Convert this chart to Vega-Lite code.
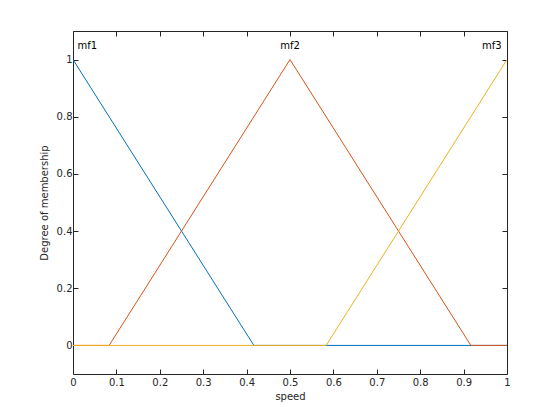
{
  "$schema": "https://vega.github.io/schema/vega-lite/v6.json",
  "autosize": {"type": "none"},
  "padding": {"left": 73, "top": 31, "right": 53, "bottom": 46},
  "width": 434,
  "height": 343,
  "background": "white",
  "config": {
    "view": {"stroke": null},
    "font": "DejaVu Sans",
    "axis": {
      "domainColor": "#262626",
      "tickColor": "#262626",
      "labelColor": "#262626",
      "titleColor": "#262626",
      "labelFont": "DejaVu Sans",
      "titleFont": "DejaVu Sans",
      "labelFontSize": 10,
      "titleFontSize": 10,
      "titleFontWeight": "normal",
      "grid": false,
      "tickSize": -5,
      "domainWidth": 1,
      "tickWidth": 1
    }
  },
  "datasets": {
    "lines": [
      {"mf": "mf1", "x": 0, "y": 1, "o": 1},
      {"mf": "mf1", "x": 0.4167, "y": 0, "o": 2},
      {"mf": "mf1", "x": 1, "y": 0, "o": 3},
      {"mf": "mf2", "x": 0, "y": 0, "o": 1},
      {"mf": "mf2", "x": 0.0833, "y": 0, "o": 2},
      {"mf": "mf2", "x": 0.5, "y": 1, "o": 3},
      {"mf": "mf2", "x": 0.9167, "y": 0, "o": 4},
      {"mf": "mf2", "x": 1, "y": 0, "o": 5},
      {"mf": "mf3", "x": 0, "y": 0, "o": 1},
      {"mf": "mf3", "x": 0.5833, "y": 0, "o": 2},
      {"mf": "mf3", "x": 1, "y": 1, "o": 3}
    ],
    "labels": [
      {"label": "mf1", "x": 0.033, "y": 1.048},
      {"label": "mf2", "x": 0.5, "y": 1.048},
      {"label": "mf3", "x": 0.965, "y": 1.048}
    ]
  },
  "layer": [
    {
      "data": {"name": "lines"},
      "mark": {"type": "line", "strokeWidth": 1, "clip": true},
      "encoding": {
        "x": {"field": "x", "type": "quantitative", "scale": {"domain": [0, 1], "nice": false, "zero": false},
              "axis": {"title": "speed", "values": [0,0.1,0.2,0.3,0.4,0.5,0.6,0.7,0.8,0.9,1], "labelPadding": 8, "titlePadding": 4, "labelFlush": false, "labelExpr": "datum.value == 0 ? '0' : datum.value == 1 ? '1' : format(datum.value, '.1f')"}},
        "y": {"field": "y", "type": "quantitative", "scale": {"domain": [-0.1, 1.1], "nice": false, "zero": false},
              "axis": {"title": "Degree of membership", "values": [0,0.2,0.4,0.6,0.8,1], "labelPadding": 6, "titlePadding": 7, "labelFlush": false, "labelExpr": "datum.value == 0 ? '0' : datum.value == 1 ? '1' : format(datum.value, '.1f')"}},
        "color": {"field": "mf", "type": "nominal", "scale": {"domain": ["mf1", "mf2", "mf3"], "range": ["#0072BD", "#D95319", "#EDB120"]}, "legend": null},
        "order": {"field": "o", "type": "quantitative"}
      }
    },
    {
      "data": {"name": "labels"},
      "mark": {"type": "text", "fontSize": 10, "color": "#000000", "font": "DejaVu Sans", "align": "center", "baseline": "middle"},
      "encoding": {
        "x": {"field": "x", "type": "quantitative", "axis": {"orient": "top", "title": null, "labels": false, "values": [0,0.1,0.2,0.3,0.4,0.5,0.6,0.7,0.8,0.9,1]}},
        "y": {"field": "y", "type": "quantitative", "axis": {"orient": "right", "title": null, "labels": false, "values": [0,0.2,0.4,0.6,0.8,1]}},
        "text": {"field": "label", "type": "nominal"}
      }
    }
  ],
  "resolve": {"axis": {"x": "independent", "y": "independent"}}
}
